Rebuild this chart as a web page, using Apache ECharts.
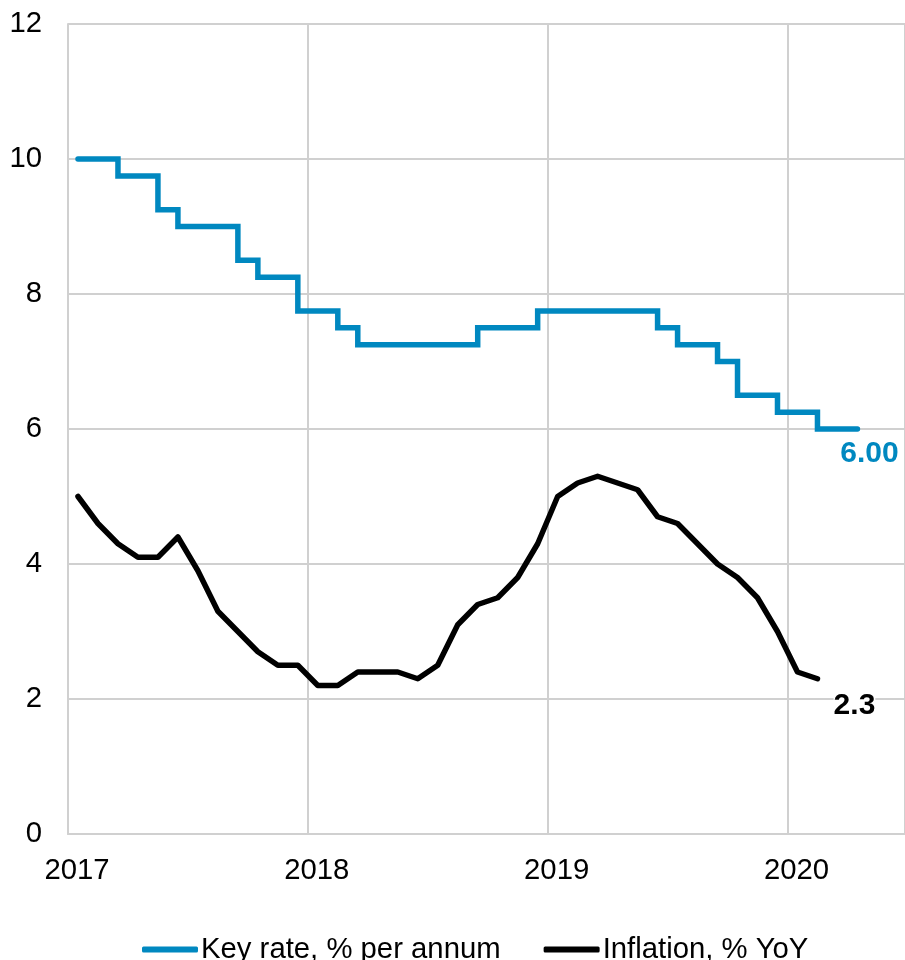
<!DOCTYPE html>
<html>
<head>
<meta charset="utf-8">
<script src="https://cdn.jsdelivr.net/npm/echarts@6/dist/echarts.min.js"></script>
<style>
  html, body { margin: 0; padding: 0; background: #fff; }
  #chart { width: 905px; height: 960px; }
</style>
</head>
<body>
<div id="chart"></div>
<script>
// Monthly observations (plotted at mid-month)
const months = [
  '2017-01','2017-02','2017-03','2017-04','2017-05','2017-06','2017-07','2017-08','2017-09','2017-10','2017-11','2017-12',
  '2018-01','2018-02','2018-03','2018-04','2018-05','2018-06','2018-07','2018-08','2018-09','2018-10','2018-11','2018-12',
  '2019-01','2019-02','2019-03','2019-04','2019-05','2019-06','2019-07','2019-08','2019-09','2019-10','2019-11','2019-12',
  '2020-01','2020-02','2020-03','2020-04'
];
const keyRate = [
  10, 10, 9.75, 9.75, 9.25, 9, 9, 9, 8.5, 8.25, 8.25, 7.75,
  7.75, 7.5, 7.25, 7.25, 7.25, 7.25, 7.25, 7.25, 7.5, 7.5, 7.5, 7.75,
  7.75, 7.75, 7.75, 7.75, 7.75, 7.5, 7.25, 7.25, 7, 6.5, 6.5, 6.25,
  6.25, 6, 6, 6
];
const inflation = [
  5.0, 4.6, 4.3, 4.1, 4.1, 4.4, 3.9, 3.3, 3.0, 2.7, 2.5, 2.5,
  2.2, 2.2, 2.4, 2.4, 2.4, 2.3, 2.5, 3.1, 3.4, 3.5, 3.8, 4.3,
  5.0, 5.2, 5.3, 5.2, 5.1, 4.7, 4.6, 4.3, 4.0, 3.8, 3.5, 3.0,
  2.4, 2.3
];
const yearTicks = [2017, 2018, 2019, 2020];
const seriesNames = ['Key rate, % per annum', 'Inflation, % YoY'];

const FONT = "'Liberation Sans', Arial, sans-serif";
const FS = 29.3;
const BLUE = '#0088C0';
const GRID = '#d0d0d0';

function toYear(m) {
  const [y, mo] = m.split('-').map(Number);
  return y + (mo - 0.5) / 12;
}
const keyData = keyRate.map((v, i) => [toYear(months[i]), v]);
const infData = inflation.map((v, i) => [toYear(months[i]), v]);

const chart = echarts.init(document.getElementById('chart'), null, { renderer: 'canvas' });
chart.setOption({
  animation: false,
  backgroundColor: '#fff',
  grid: { left: 68, right: 0, top: 24, bottom: 126 },
  legend: {
    left: 137,
    top: 930,
    itemWidth: 56,
    itemHeight: 6,
    itemGap: 43,
    icon: 'roundRect',
    textStyle: { fontFamily: FONT, fontSize: FS, color: '#000', padding: [0, 0, 0, -2] },
    data: seriesNames
  },
  xAxis: {
    type: 'value',
    min: yearTicks[0],
    max: 2020.49,
    interval: 1,
    axisLine: { show: true, lineStyle: { color: GRID, width: 2 } },
    axisTick: { show: false },
    splitLine: { show: true, lineStyle: { color: GRID, width: 2 } },
    axisLabel: {
      showMaxLabel: false,
      fontFamily: FONT, fontSize: FS, color: '#000',
      margin: 22,
      padding: [0, 0, 0, 18],
      formatter: v => (yearTicks.includes(v) ? String(v) : '')
    }
  },
  yAxis: {
    type: 'value',
    min: 0, max: 12, interval: 2,
    axisLine: { show: true, lineStyle: { color: GRID, width: 2 } },
    axisTick: { show: false },
    splitLine: { show: true, lineStyle: { color: GRID, width: 2 } },
    axisLabel: { fontFamily: FONT, fontSize: FS, color: '#000', margin: 26 }
  },
  series: [
    {
      name: seriesNames[0],
      type: 'line',
      step: 'end',
      data: keyData,
      showSymbol: false,
      symbol: 'none',
      color: BLUE,
      lineStyle: { color: BLUE, width: 5.5, cap: 'round', join: 'miter' },
      endLabel: {
        show: true,
        formatter: p => p.value[1].toFixed(2),
        fontFamily: FONT, fontSize: 30, fontWeight: 'bold', color: BLUE,
        align: 'center', verticalAlign: 'middle',
        distance: 0,
        offset: [12, 25]
      }
    },
    {
      name: seriesNames[1],
      type: 'line',
      data: infData,
      showSymbol: false,
      symbol: 'none',
      color: '#000',
      lineStyle: { color: '#000', width: 5.5, cap: 'round', join: 'round' },
      endLabel: {
        show: true,
        formatter: p => p.value[1].toFixed(1),
        fontFamily: FONT, fontSize: 30, fontWeight: 'bold', color: '#000',
        backgroundColor: '#fff',
        align: 'center', verticalAlign: 'middle',
        distance: 0,
        offset: [37, 27]
      }
    }
  ]
});
</script>
</body>
</html>
